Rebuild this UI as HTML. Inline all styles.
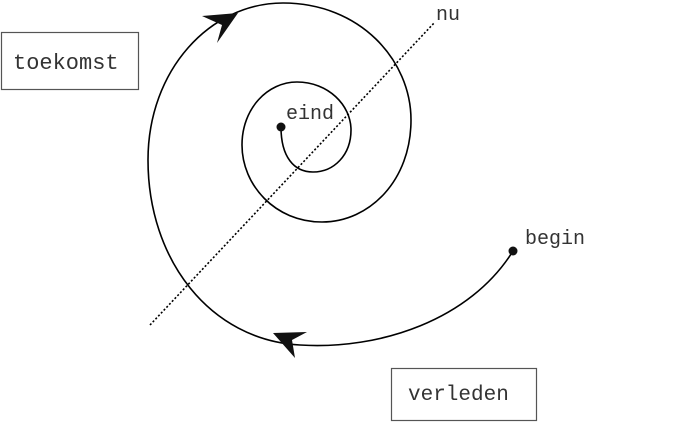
<!DOCTYPE html>
<html><head><meta charset="utf-8"><style>
html,body{margin:0;padding:0;background:#fff;}
svg{display:block;}
text{font-family:"Liberation Mono",monospace;fill:#333;}
</style></head><body>
<svg width="700" height="423" viewBox="0 0 700 423" xmlns="http://www.w3.org/2000/svg">
<rect x="0" y="0" width="700" height="423" fill="#fff"/>
<line x1="150" y1="325" x2="435" y2="22" stroke="#000" stroke-width="1.6" stroke-dasharray="2,2"/>
<path d="M513,251 C470,320 380,350 300,345 C210,340 148,260 148,160 C148,70 210,3 283,3 C360,3 411,60 411,120 C411,180 370,222 322,222 C275,222 242,185 242,145 C242,108 268,82 297,82 C328,82 351,105 351,130 C351,155 334,172 313,172 C294,172 281,157 281,127" fill="none" stroke="#000" stroke-width="1.6"/>
<circle cx="513" cy="251" r="4.5" fill="#111"/>
<circle cx="281" cy="127" r="4.5" fill="#111"/>
<polygon points="238,13 202,16 222,25 217,43" fill="#111"/>
<polygon points="273,333 307,332 292,340 295,358" fill="#111"/>
<rect x="1.5" y="32.5" width="137" height="57" fill="none" stroke="#555" stroke-width="1.2"/>
<text x="13" y="69" font-size="22">toekomst</text>
<rect x="391.5" y="368.5" width="145" height="52" fill="none" stroke="#555" stroke-width="1.2"/>
<text x="408" y="400" font-size="21">verleden</text>
<text x="286" y="119" font-size="20">eind</text>
<text x="436" y="20" font-size="20">nu</text>
<text x="525" y="244" font-size="20">begin</text>
</svg>
</body></html>
